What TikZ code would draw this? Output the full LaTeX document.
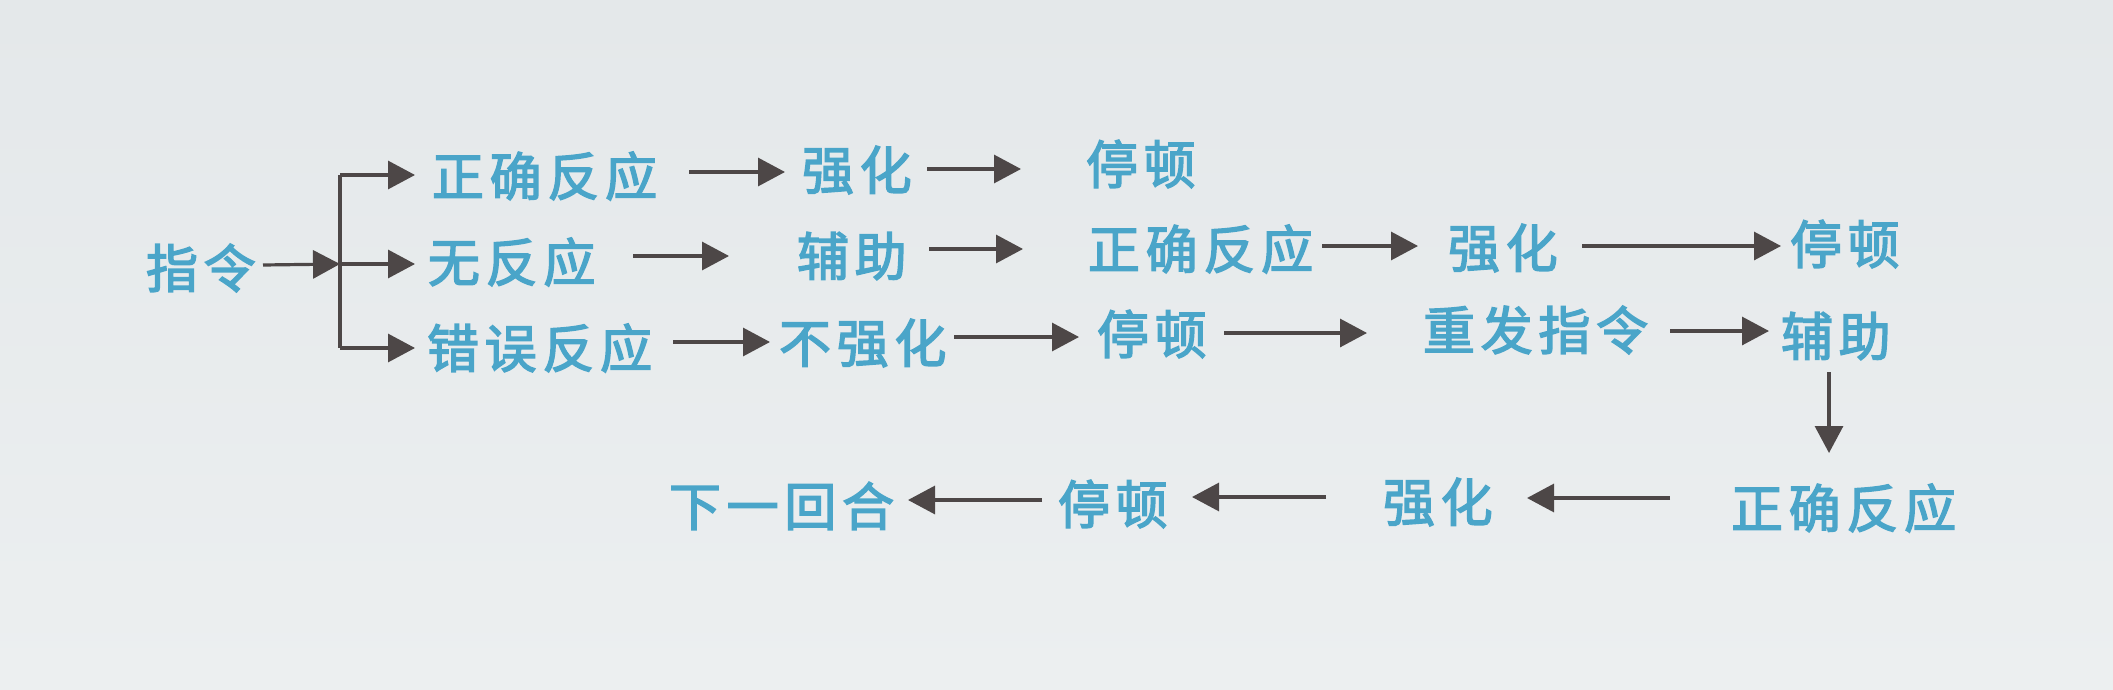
\documentclass[tikz,border=0pt]{standalone}
\usepackage{fontspec}
\usetikzlibrary{arrows.meta}
\newfontfamily\cjk{Noto Sans CJK SC}[LetterSpace=11,FakeBold=2.8]
\definecolor{bgtop}{HTML}{E4E8EA}
\definecolor{bgbot}{HTML}{ECEFF0}
\definecolor{txtc}{HTML}{4AA5C9}
\definecolor{arrc}{HTML}{4D4747}
\tikzset{
  lbl/.style={anchor=west, inner sep=0pt, outer sep=0pt, text=txtc, font=\cjk\fontsize{26pt}{30pt}\selectfont},
  ln/.style={draw=arrc, line width=1.6pt},
  arr/.style={ln, -{Triangle[length=13.5pt,width=14pt]}}
}
\newcommand\harr[6]{\draw[arr] ([xshift=#2*0.5pt,yshift=#3*0.5pt]#1.west) -- ([xshift=#5*0.5pt,yshift=#6*0.5pt]#4.west);}
\begin{document}
\begin{tikzpicture}[x=0.5pt,y=-0.5pt]
\shade[top color=bgtop, bottom color=bgbot] (0,0) rectangle (2113,690);
\useasboundingbox (0,0) rectangle (2113,690);
% nodes
\node[lbl] (zl) at (146,268) {指令};
\node[lbl] (a1) at (432,176) {正确反应};
\node[lbl] (a2) at (802,170) {强化};
\node[lbl] (a3) at (1086,164) {停顿};
\node[lbl] (b1) at (428,262) {无反应};
\node[lbl] (b2) at (797,256) {辅助};
\node[lbl] (b3) at (1088,249) {正确反应};
\node[lbl] (b4) at (1448,248) {强化};
\node[lbl] (b5) at (1790,244) {停顿};
\node[lbl] (c1) at (427,348) {错误反应};
\node[lbl] (c2) at (779,343) {不强化};
\node[lbl] (c3) at (1097,334) {停顿};
\node[lbl] (c4) at (1423,330) {重发指令};
\node[lbl] (c5) at (1781,336) {辅助};
\node[lbl] (d1) at (1731,508) {正确反应};
\node[lbl] (d2) at (1383,502) {强化};
\node[lbl] (d3) at (1058,504) {停顿};
\node[lbl] (d4) at (669,506) {下一回合};
% branching
\coordinate (j1) at (340,175);
\coordinate (j2) at (340,264);
\coordinate (j3) at (340,348);
\draw[arr] ([xshift=117*0.5pt,yshift=3*0.5pt]zl.west) -- (j2);
\draw[ln] (j1) -- (j3);
\draw[arr] (j1) -- ([xshift=-17*0.5pt,yshift=1*0.5pt]a1.west);
\draw[arr] (j2) -- ([xshift=-13*0.5pt,yshift=-2*0.5pt]b1.west);
\draw[arr] (j3) -- ([xshift=-12*0.5pt]c1.west);
% row 1
\harr{a1}{257}{4}{a2}{-17}{-2}
\harr{a2}{125}{1}{a3}{-65}{-5}
% row 2
\harr{b1}{205}{6}{b2}{-68}{0}
\harr{b2}{132}{7}{b3}{-65}{0}
\harr{b3}{234}{3}{b4}{-30}{2}
\harr{b4}{134}{2}{b5}{-9}{-2}
% row 3
\harr{c1}{246}{6}{c2}{-9}{1}
\harr{c2}{175}{6}{c3}{-18}{-3}
\harr{c3}{127}{1}{c4}{-56}{-3}
\harr{c4}{247}{-1}{c5}{-12}{5}
% down
\harr{c5}{48}{-36}{d1}{98}{55}
% row 4
\harr{d1}{-61}{10}{d2}{144}{4}
\harr{d2}{-57}{5}{d3}{134}{7}
\harr{d3}{-16}{4}{d4}{239}{6}
\end{tikzpicture}
\end{document}
